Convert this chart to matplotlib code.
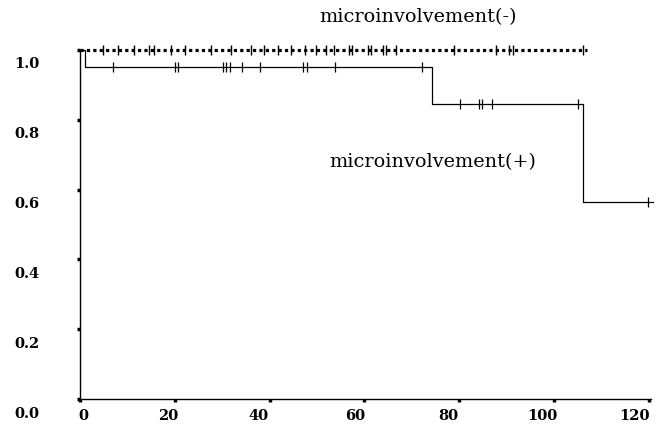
import numpy as np
import matplotlib
matplotlib.use('Agg')
import matplotlib.pyplot as plt
from matplotlib.transforms import ScaledTranslation

#---------------------Data---------------------
# microinvolvement(-): no events, flat at 1.0
neg_step_t = [0.0, 107.0]
neg_step_s = [1.0, 1.0]
neg_censor = [4.9, 8.0, 11.5, 14.6, 15.7, 19.3, 22.1, 27.7, 31.9, 36.1,
              38.9, 41.8, 44.6, 47.4, 49.9, 51.9, 53.7, 56.8, 57.5, 60.7,
              61.4, 63.9, 64.6, 66.7, 79.0, 87.8, 90.6, 91.3, 106.1]

# microinvolvement(+): step curve
pos_step_t = [0.0, 1.0, 74.2, 106.2, 120.9]
pos_step_s = [1.0, 0.951, 0.845, 0.564, 0.564]
pos_censor = [7.0, 20.0, 20.7, 30.2, 30.9, 31.6, 34.1, 38.0, 47.1, 47.8,
              53.8, 72.1, 80.2, 84.2, 84.8, 86.9, 105.1, 119.9]

x_ticks = [0, 20, 40, 60, 80, 100, 120]
y_ticks = [0.0, 0.2, 0.4, 0.6, 0.8, 1.0]
y_ticklabels = ['0.0', '0.2', '0.4', '0.6', '0.8', '1.0']
x_label_shift = [3, -7, -11, -9, -11, -11, -14]   # px, labels sit off their ticks in the scan

label_neg = 'microinvolvement(-)'
label_pos = 'microinvolvement(+)'

#---------------------Figure-----------------------------
W, H, DPI = 661, 426, 100
fig = plt.figure(figsize=(W / DPI, H / DPI), dpi=DPI)
ax = fig.add_axes([80 / W, 27 / H, 571 / W, 349 / H])
ax.set_xlim(0, 120.5)
ax.set_ylim(0, 1.0)

def surv_at(t, st, ss):
    i = np.searchsorted(st, t, side='right') - 1
    return np.array(ss)[i]

# (-) curve: heavy dotted line
ax.plot(neg_step_t, neg_step_s, color='black', lw=2.3, ls=(0, (1, 1.0)),
        solid_capstyle='butt', dash_capstyle='butt', clip_on=False, zorder=3)
ax.plot(neg_censor, surv_at(neg_censor, neg_step_t, neg_step_s), ls='none',
        marker='|', ms=7, mew=1.0, color='black', clip_on=False, zorder=4)

# (+) curve: thin step line
ax.step(pos_step_t, pos_step_s, where='post', color='black', lw=0.9, clip_on=False)
ax.plot(pos_censor, surv_at(pos_censor, pos_step_t, pos_step_s), ls='none',
        marker='|', ms=7, mew=0.9, color='black', clip_on=False)

ax.text(50.6, 1.095, label_neg, fontsize=13.9, family='DejaVu Serif',
        ha='left', va='center')
ax.text(52.7, 0.679, label_pos, fontsize=13.9, family='DejaVu Serif',
        ha='left', va='center')

#---------------------Axes style--------------------------
for s in ['top', 'right']:
    ax.spines[s].set_visible(False)
for s in ['left', 'bottom']:
    ax.spines[s].set_linewidth(1.0)

ax.set_xticks(x_ticks)
ax.set_xticklabels([str(v) for v in x_ticks])
ax.set_yticks(y_ticks)
ax.set_yticklabels(y_ticklabels)
ax.tick_params(direction='out', length=2, width=2.5, labelsize=10.5)
ax.tick_params(axis='y', pad=27)
ax.tick_params(axis='x', pad=5)

for lab in ax.get_xticklabels() + ax.get_yticklabels():
    lab.set_family('DejaVu Serif')
    lab.set_fontweight('bold')
for lab in ax.get_yticklabels():
    lab.set_transform(lab.get_transform() + ScaledTranslation(0, -13 / DPI, fig.dpi_scale_trans))
for lab, dx in zip(ax.get_xticklabels(), x_label_shift):
    lab.set_transform(lab.get_transform() + ScaledTranslation(dx / DPI, 0, fig.dpi_scale_trans))

fig.savefig('out.png', dpi=DPI)
